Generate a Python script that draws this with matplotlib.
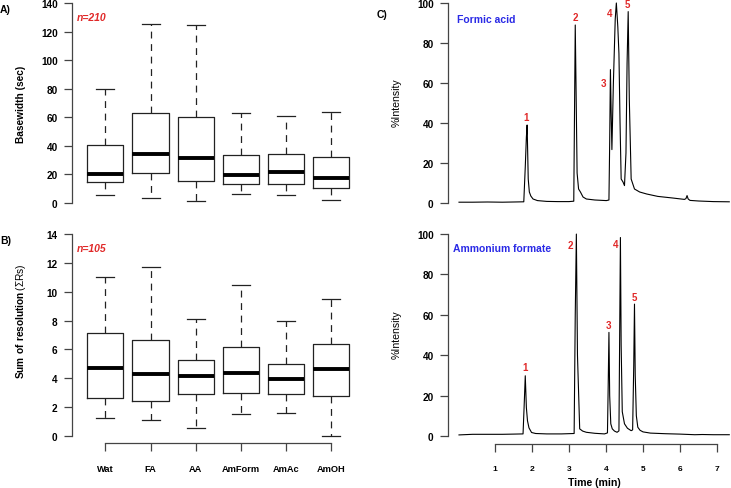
import matplotlib
matplotlib.use('Agg')
import matplotlib.pyplot as plt

plt.rcParams['font.family'] = ['Liberation Sans', 'DejaVu Sans']
plt.rcParams['mathtext.fontset'] = 'custom'
plt.rcParams['mathtext.rm'] = 'Liberation Sans'
plt.rcParams['mathtext.bf'] = 'Liberation Sans:bold'

# -------------------------------
# data

groups = ['Wat', 'FA', 'AA', 'AmForm', 'AmAc', 'AmOH']

# A) basewidth (sec)
bw_whislo = [5.6, 3.5, 1.6, 6.5, 5.6, 2.1]
bw_q1     = [14.5, 21.0, 15.6, 13.1, 13.1, 10.5]
bw_med    = [20.3, 34.1, 31.3, 19.6, 21.5, 17.3]
bw_q3     = [40.8, 62.8, 60.0, 33.6, 34.1, 32.2]
bw_whishi = [79.8, 125.3, 124.4, 62.8, 61.1, 63.9]

# B) sum of resolution
rs_whislo = [1.26, 1.12, 0.58, 1.49, 1.60, 0.0]
rs_q1     = [2.60, 2.40, 2.93, 2.98, 2.92, 2.79]
rs_med    = [4.72, 4.30, 4.19, 4.35, 3.97, 4.67]
rs_q3     = [7.14, 6.67, 5.26, 6.19, 5.01, 6.35]
rs_whishi = [11.05, 11.74, 8.14, 10.49, 7.94, 9.52]

# C) chromatograms (time in min, %intensity)
t_fa = [0.03, 0.4, 0.8, 1.2, 1.5, 1.78, 1.82, 1.85, 1.87, 1.90,
        1.93, 1.97, 2.03, 2.15, 2.4, 2.7, 3.0, 3.13, 3.15, 3.17,
        3.19, 3.22, 3.26, 3.31, 3.38, 3.47, 3.7, 4.01, 4.08, 4.10,
        4.12, 4.14, 4.16, 4.20, 4.25, 4.28, 4.32, 4.35, 4.38, 4.41,
        4.46, 4.50, 4.54, 4.57, 4.60, 4.63, 4.68, 4.77, 4.91, 5.1,
        5.4, 5.8, 6.12, 6.16, 6.19, 6.22, 6.27, 6.5, 6.9, 7.33]
y_fa = [0.4, 0.4, 0.5, 0.4, 0.5, 0.6, 18, 33, 39, 12,
        5.5, 3.5, 2, 1.2, 0.8, 0.7, 0.7, 0.9, 45, 89,
        60, 15, 7, 5.5, 3, 2, 1.5, 1.2, 1.5, 30,
        66.7, 45, 26.7, 60, 92, 100, 88, 74.7, 40, 12,
        10.5, 8.7, 25, 70, 95.7, 52, 12, 7, 5.5, 4.5,
        3.3, 2.5, 1.8, 2.2, 3.7, 2, 1.3, 1.0, 0.7, 0.6]

t_af = [0.03, 0.4, 0.8, 1.2, 1.5, 1.76, 1.79, 1.82, 1.85, 1.88,
        1.92, 1.99, 2.1, 2.4, 2.8, 3.14, 3.17, 3.20, 3.23, 3.29,
        3.37, 3.47, 3.7, 3.96, 4.04, 4.06, 4.08, 4.10, 4.13, 4.17,
        4.23, 4.30, 4.35, 4.37, 4.39, 4.41, 4.44, 4.50, 4.58, 4.68,
        4.72, 4.75, 4.77, 4.79, 4.82, 4.86, 4.92, 5.0, 5.2, 5.6,
        6.0, 6.4, 6.6, 6.9, 7.33]
y_af = [0.5, 0.8, 0.8, 0.8, 0.9, 1.0, 15, 29.8, 14, 7.5,
        4, 1.7, 1.2, 1.0, 1.0, 1.2, 60, 100, 40, 3.5,
        2.4, 1.8, 1.3, 1.0, 1.5, 25, 51.3, 20, 6, 3.5,
        2.4, 1.8, 2.5, 50, 98.3, 45, 12, 6, 3.8, 2.6,
        3, 35, 65.3, 30, 10, 4.3, 2.8, 2.0, 1.4, 1.1,
        0.9, 0.6, 0.7, 0.6, 0.6]

peak_labels = ['1', '2', '3', '4', '5']
fa_lab_t = [1.85, 3.17, 3.94, 4.10, 4.59]
fa_lab_y = [42.8, 92.8, 60.0, 95.0, 99.5]
af_lab_t = [1.81, 3.04, 4.08, 4.25, 4.77]
af_lab_y = [33.9, 94.7, 55.0, 95.2, 69.0]

# -------------------------------

W, H = 731, 489
fig = plt.figure(figsize=(W/100, H/100), dpi=100)

def add_ax(l, t, r, b):
    # pixel box -> figure fraction
    return fig.add_axes([l/W, 1-b/H, (r-l)/W, (b-t)/H])

def ftext(x, y, s, **kw):
    fig.text(x/W, 1-y/H, s, **kw)

axcol = '#444444'
red = '#e02828'
blue = '#2a2ae6'

def style_y(ax, yticks, fs=7.2):
    for s in ['top', 'right', 'bottom']:
        ax.spines[s].set_visible(False)
    ax.spines['left'].set_bounds(yticks[0], yticks[-1])
    ax.spines['left'].set_color(axcol)
    ax.spines['left'].set_linewidth(0.9)
    ax.set_yticks(yticks)
    ax.set_yticklabels([str(v) for v in yticks], fontsize=fs, fontweight='bold')
    ax.tick_params(axis='y', length=5.8, width=0.9, color=axcol, pad=4.5)
    ax.tick_params(axis='x', bottom=False, labelbottom=False)
    ax.patch.set_visible(False)

def draw_box(ax, lo, q1, med, q3, hi):
    stats = []
    for i in range(len(groups)):
        stats.append(dict(whislo=lo[i], q1=q1[i], med=med[i], q3=q3[i], whishi=hi[i], fliers=[]))
    ax.bxp(stats, positions=range(1, len(groups)+1), widths=0.8, capwidths=0.4,
           showfliers=False, manage_ticks=False,
           boxprops=dict(color='#222222', linewidth=0.9),
           medianprops=dict(color='black', linewidth=2.8, solid_capstyle='butt'),
           whiskerprops=dict(color='#222222', linewidth=0.9, linestyle=(0, (5.5, 4.5))),
           capprops=dict(color='#222222', linewidth=0.9))
    ax.set_xlim(0.26, 6.74)

# A) basewidth
ax1 = add_ax(72, -4, 364.5, 212)
draw_box(ax1, bw_whislo, bw_q1, bw_med, bw_q3, bw_whishi)
ax1.set_ylim(-5.6, 145.6)
style_y(ax1, list(range(0, 141, 20)))
ftext(21, 104, 'Basewidth (sec)', rotation=90, ha='center', va='center', fontsize=7.3, fontweight='bold')
ftext(0, 10, 'A)', ha='left', va='center', fontsize=7.5, fontweight='bold')
ftext(77, 18, 'n=210', ha='left', va='center', fontsize=7.5, fontweight='bold', style='italic', color=red)

# B) sum of resolution
ax2 = add_ax(72, 227, 364.5, 444)
draw_box(ax2, rs_whislo, rs_q1, rs_med, rs_q3, rs_whishi)
ax2.set_ylim(-0.49, 14.56)
style_y(ax2, list(range(0, 15, 2)))
ax2.spines['bottom'].set_visible(True)
ax2.spines['bottom'].set_bounds(1, 6)
ax2.spines['bottom'].set_color(axcol)
ax2.spines['bottom'].set_linewidth(0.9)
ax2.set_xticks(range(1, len(groups)+1))
ax2.set_xticklabels(groups, fontsize=6.7, fontweight='bold')
ax2.tick_params(axis='x', bottom=True, labelbottom=True, length=5.8, width=0.9, color=axcol, pad=9)
ftext(21, 321, r'$\mathbf{Sum\ of\ resolution}\,(\Sigma\mathrm{Rs})$', rotation=90, ha='center', va='center', fontsize=7.3)
ftext(0, 241, 'B)', ha='left', va='center', fontsize=7.5, fontweight='bold')
ftext(77, 249, 'n=105', ha='left', va='center', fontsize=7.5, fontweight='bold', style='italic', color=red)

# C) chromatograms
ax3 = add_ax(448, -4, 740, 212)
ax3.plot(t_fa, y_fa, color='black', linewidth=0.8)
ax3.set_xlim(-0.267, 7.62)
ax3.set_ylim(-4, 104)
style_y(ax3, list(range(0, 101, 20)))
for i in range(len(peak_labels)):
    ax3.text(fa_lab_t[i], fa_lab_y[i], peak_labels[i], ha='center', va='center', fontsize=7, fontweight='bold', color=red)
ftext(397, 103, '%Intensity', rotation=90, ha='center', va='center', fontsize=7.6)
ftext(377, 15, 'C)', ha='left', va='center', fontsize=7.5, fontweight='bold')
ftext(457, 20, 'Formic acid', ha='left', va='center', fontsize=7.5, fontweight='bold', color=blue)

ax4 = add_ax(448, 227, 740, 445)
ax4.plot(t_af, y_af, color='black', linewidth=0.8)
ax4.set_xlim(-0.267, 7.62)
ax4.set_ylim(-4, 104)
style_y(ax4, list(range(0, 101, 20)))
ax4.spines['bottom'].set_visible(True)
ax4.spines['bottom'].set_bounds(1, 7)
ax4.spines['bottom'].set_color(axcol)
ax4.spines['bottom'].set_linewidth(0.9)
ax4.set_xticks(range(1, 8))
ax4.set_xticklabels([str(v) for v in range(1, 8)], fontsize=6, fontweight='bold')
ax4.tick_params(axis='x', bottom=True, labelbottom=True, length=5.8, width=0.9, color=axcol, pad=9)
for i in range(len(peak_labels)):
    ax4.text(af_lab_t[i], af_lab_y[i], peak_labels[i], ha='center', va='center', fontsize=7, fontweight='bold', color=red)
ftext(397, 335, '%Intensity', rotation=90, ha='center', va='center', fontsize=7.6)
ftext(453, 249, 'Ammonium formate', ha='left', va='center', fontsize=7.5, fontweight='bold', color=blue)
ftext(594, 483, 'Time (min)', ha='center', va='center', fontsize=7.6, fontweight='bold')

plt.savefig('out.png', dpi=100)
plt.close('all')
